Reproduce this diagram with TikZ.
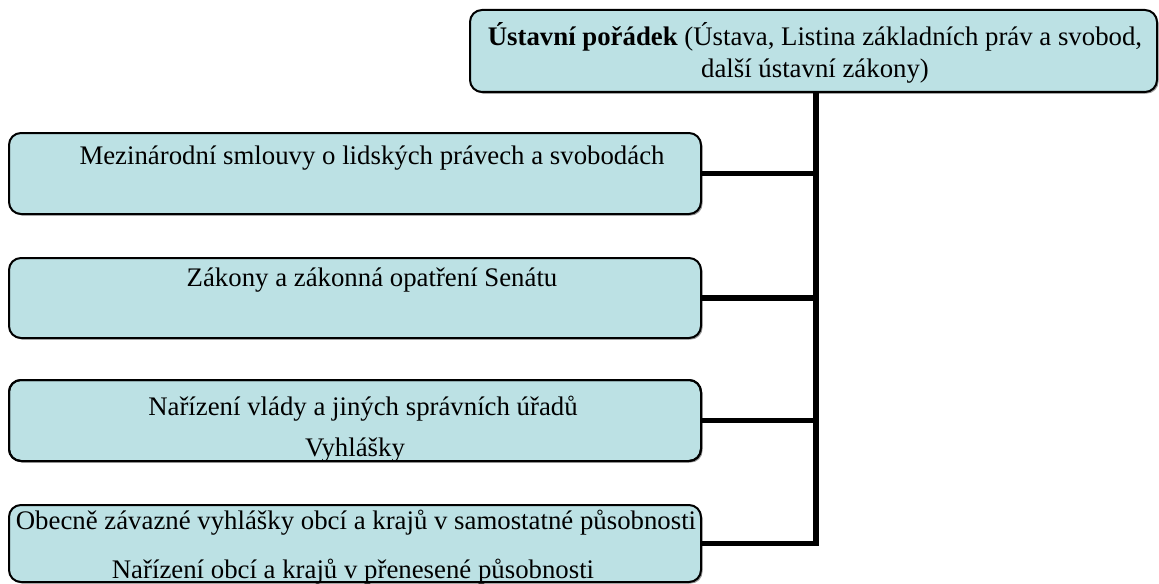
\documentclass[tikz,border=0pt]{standalone}
\usepackage{fontspec}
\setmainfont{Liberation Serif}
\usetikzlibrary{shadows}
\definecolor{boxfill}{HTML}{BCE1E4}
\definecolor{shadowgray}{HTML}{9A9A9A}
\begin{document}
\begin{tikzpicture}[x=0.5pt,y=-0.5pt,
  box/.style={draw=black,line width=1pt,fill=boxfill,rounded corners=6pt,
    inner sep=0pt,outer sep=0pt,
    drop shadow={shadow xshift=0.8pt,shadow yshift=-0.8pt,fill=shadowgray,opacity=1}},
  txt/.style={inner sep=0pt,font=\fontsize{13.4pt}{16pt}\selectfont,align=center},
  conn/.style={line width=2.6pt,line join=miter}]
\useasboundingbox (0,0) rectangle (1159,583);
% boxes
\node[box,minimum width=343.5pt,minimum height=41pt] (top) at (813.5,51) {};
\node[box,minimum width=346pt,minimum height=40.5pt] (b1) at (355,173.5) {};
\node[box,minimum width=346pt,minimum height=40pt] (b2) at (355,298) {};
\node[box,minimum width=346pt,minimum height=40.5pt] (b3) at (355,420.5) {};
\node[box,minimum width=346pt,minimum height=38.5pt] (b4) at (355,543.5) {};
% texts
\node[txt] (t0) at (815,53) {\textbf{Ústavní pořádek} (Ústava, Listina základních práv a svobod,\\ další ústavní zákony)};
\node[txt] (t1) at (372,158) {Mezinárodní smlouvy o lidských právech a svobodách};
\node[txt] (t2) at (372,280) {Zákony a zákonná opatření Senátu};
\node[txt] (t3a) at (363,409) {Nařízení vlády a jiných správních úřadů};
\begin{scope}
  \clip[rounded corners=6pt] ([shift={(0.5pt,-0.5pt)}]b3.north west) rectangle ([shift={(-0.5pt,0.5pt)}]b3.south east);
  \node[txt] (t3b) at (355,450) {Vyhlášky};
\end{scope}
\draw[line width=1pt,rounded corners=6pt] (b3.north west) rectangle (b3.south east);
\node[txt] (t4a) at (356,523) {Obecně závazné vyhlášky obcí a krajů v samostatné působnosti};
\node[txt] (t4b) at (353,572) {Nařízení obcí a krajů v přenesené působnosti};
% connectors
\coordinate (spine) at (816,0);
\draw[conn] (top.south -| spine) -- (b4.east -| spine) -- (b4.east);
\draw[conn] (b1.east) -- (b1.east -| spine);
\draw[conn] (b2.east) -- (b2.east -| spine);
\draw[conn] (b3.east) -- (b3.east -| spine);
\end{tikzpicture}
\end{document}
